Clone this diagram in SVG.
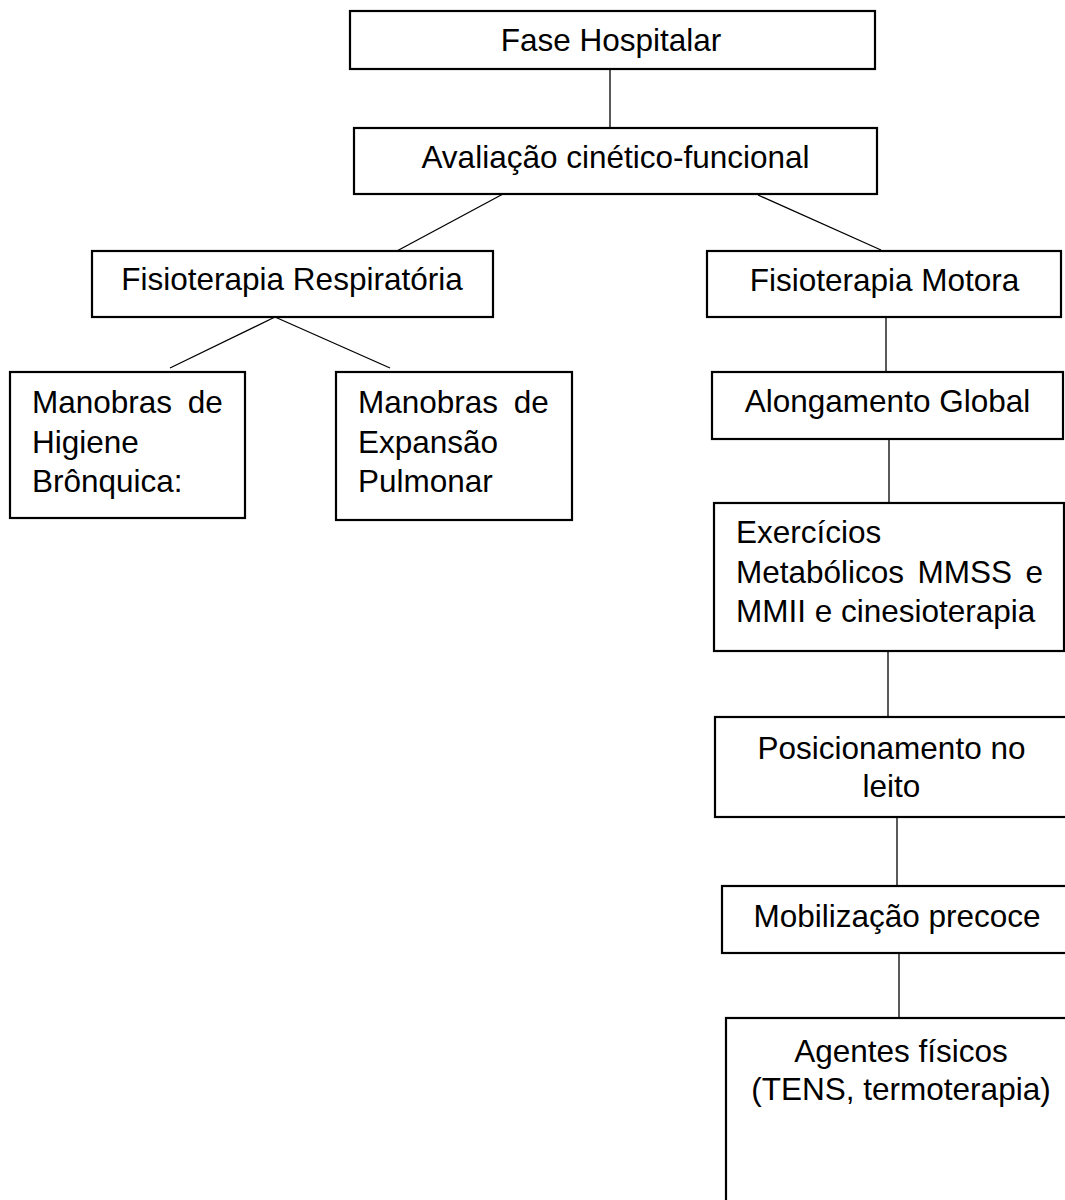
<svg xmlns="http://www.w3.org/2000/svg" width="1065" height="1200" viewBox="0 0 1065 1200">
<style>
.box{fill:#fff;stroke:#000;stroke-width:2.2}
.t{font-family:"Liberation Sans",Arial,sans-serif;font-size:31.5px;fill:#000}
.c{text-anchor:middle}
.ln{stroke:#000;stroke-width:1.3;fill:none}
</style>
<rect x="0" y="0" width="1065" height="1200" fill="#fff"/>
<g id="connectors">
<line class="ln" x1="610" y1="69" x2="610" y2="128"/>
<line class="ln" x1="503" y1="194" x2="395" y2="252"/>
<line class="ln" x1="758" y1="195" x2="881" y2="250"/>
<line class="ln" x1="275" y1="317" x2="170" y2="368"/>
<line class="ln" x1="275" y1="317" x2="390" y2="368"/>
<line class="ln" x1="886" y1="317" x2="886" y2="371"/>
<line class="ln" x1="889" y1="439" x2="889" y2="502"/>
<line class="ln" x1="888" y1="651" x2="888" y2="716"/>
<line class="ln" x1="897" y1="817" x2="897" y2="886"/>
<line class="ln" x1="899" y1="953" x2="899" y2="1018"/>
</g>
<g id="fase">
<rect class="box" x="350" y="11" width="525" height="58"/>
<text class="t c" x="611" y="51">Fase Hospitalar</text>
</g>
<g id="avaliacao">
<rect class="box" x="354" y="128" width="523" height="66"/>
<text class="t c" x="615.5" y="168">Avaliação cinético-funcional</text>
</g>
<g id="respiratoria">
<rect class="box" x="92" y="251" width="401" height="66"/>
<text class="t c" x="292" y="290">Fisioterapia Respiratória</text>
</g>
<g id="motora">
<rect class="box" x="707" y="251" width="354" height="66"/>
<text class="t c" x="884.5" y="291">Fisioterapia Motora</text>
</g>
<g id="higiene">
<rect class="box" x="10" y="372" width="235" height="146"/>
<text class="t" x="32" y="413" word-spacing="7">Manobras de</text>
<text class="t" x="32" y="453">Higiene</text>
<text class="t" x="32" y="492">Brônquica:</text>
</g>
<g id="expansao">
<rect class="box" x="336" y="372" width="236" height="148"/>
<text class="t" x="358" y="413" word-spacing="7">Manobras de</text>
<text class="t" x="358" y="453">Expansão</text>
<text class="t" x="358" y="492">Pulmonar</text>
</g>
<g id="alongamento">
<rect class="box" x="712" y="372" width="351" height="67"/>
<text class="t c" x="887.5" y="412">Alongamento Global</text>
</g>
<g id="exercicios">
<rect class="box" x="714" y="503" width="350" height="148"/>
<text class="t" x="736" y="543">Exercícios</text>
<text class="t" x="736" y="583" word-spacing="4.7">Metabólicos MMSS e</text>
<text class="t" x="736" y="622">MMII e cinesioterapia</text>
</g>
<g id="posicionamento">
<rect class="box" x="715" y="717" width="353" height="100"/>
<text class="t c" x="891.5" y="759">Posicionamento no</text>
<text class="t c" x="891.5" y="797">leito</text>
</g>
<g id="mobilizacao">
<rect class="box" x="722" y="886" width="350" height="67"/>
<text class="t c" x="897" y="927">Mobilização precoce</text>
</g>
<g id="agentes">
<rect class="box" x="726" y="1018" width="350" height="200"/>
<text class="t c" x="901" y="1062">Agentes físicos</text>
<text class="t c" x="901" y="1100">(TENS, termoterapia)</text>
</g>
</svg>
